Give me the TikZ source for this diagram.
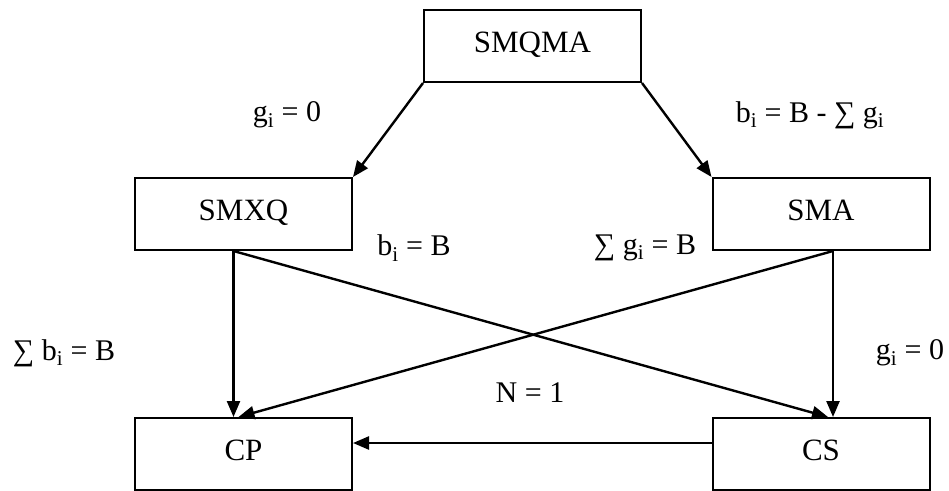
\documentclass[tikz,border=0pt]{standalone}
\usepackage{fontspec}
\setmainfont{Liberation Serif}
\usetikzlibrary{arrows.meta}
\begin{document}
\begin{tikzpicture}[x=1pt,y=-1pt,
        box/.style={draw, line width=2pt, minimum width=217pt, minimum height=72pt,
            text height=22pt, text depth=10pt, font=\fontsize{31}{36}\selectfont},
        lbl/.style={font=\fontsize{30}{34}\selectfont},
        arr/.style={line width=2.4pt, -{Triangle[length=16pt,width=13pt]}}]
            \useasboundingbox (0,0) rectangle (949,490);
            \node[box] (smqma) at (532.5,46) {SMQMA};
            \node[box] (smxq) at (243.5,214) {SMXQ};
            \node[box] (sma) at (821,214) {SMA};
            \node[box] (cp) at (243.5,454) {CP};
            \node[box] (cs) at (821,454) {CS};
            \draw[arr] (smqma.south west) -- (smxq.north east);
            \draw[arr] (smqma.south east) -- (sma.north west);
            \draw[arr] ([xshift=-10pt]smxq.south) -- ([xshift=-10pt]cp.north);
            \draw[arr] ([xshift=-10pt]smxq.south) -- ([xshift=7pt]cs.north);
            \draw[arr] ([xshift=12pt]sma.south) -- ([xshift=12pt]cs.north);
            \draw[arr] ([xshift=12pt]sma.south) -- ([xshift=-5pt]cp.north);
            \draw[arr] ([yshift=11pt]cs.west) -- ([yshift=11pt]cp.east);
            \node[lbl] (gzero) at (287,115) {g\textsubscript{i} = 0};
            \node[lbl] (bsum) at (810,115) {b\textsubscript{i} = B - ∑ g\textsubscript{i}};
            \node[lbl] (bfull) at (414,248) {b\textsubscript{i} = B};
            \node[lbl] (gfull) at (645,248) {∑ g\textsubscript{i} = B};
            \node[lbl] (ball) at (64,353) {∑ b\textsubscript{i} = B};
            \node[lbl] (gnone) at (910,353) {g\textsubscript{i} = 0};
            \node[lbl] (none) at (530,393) {N = 1};
        \end{tikzpicture}
\end{document}
